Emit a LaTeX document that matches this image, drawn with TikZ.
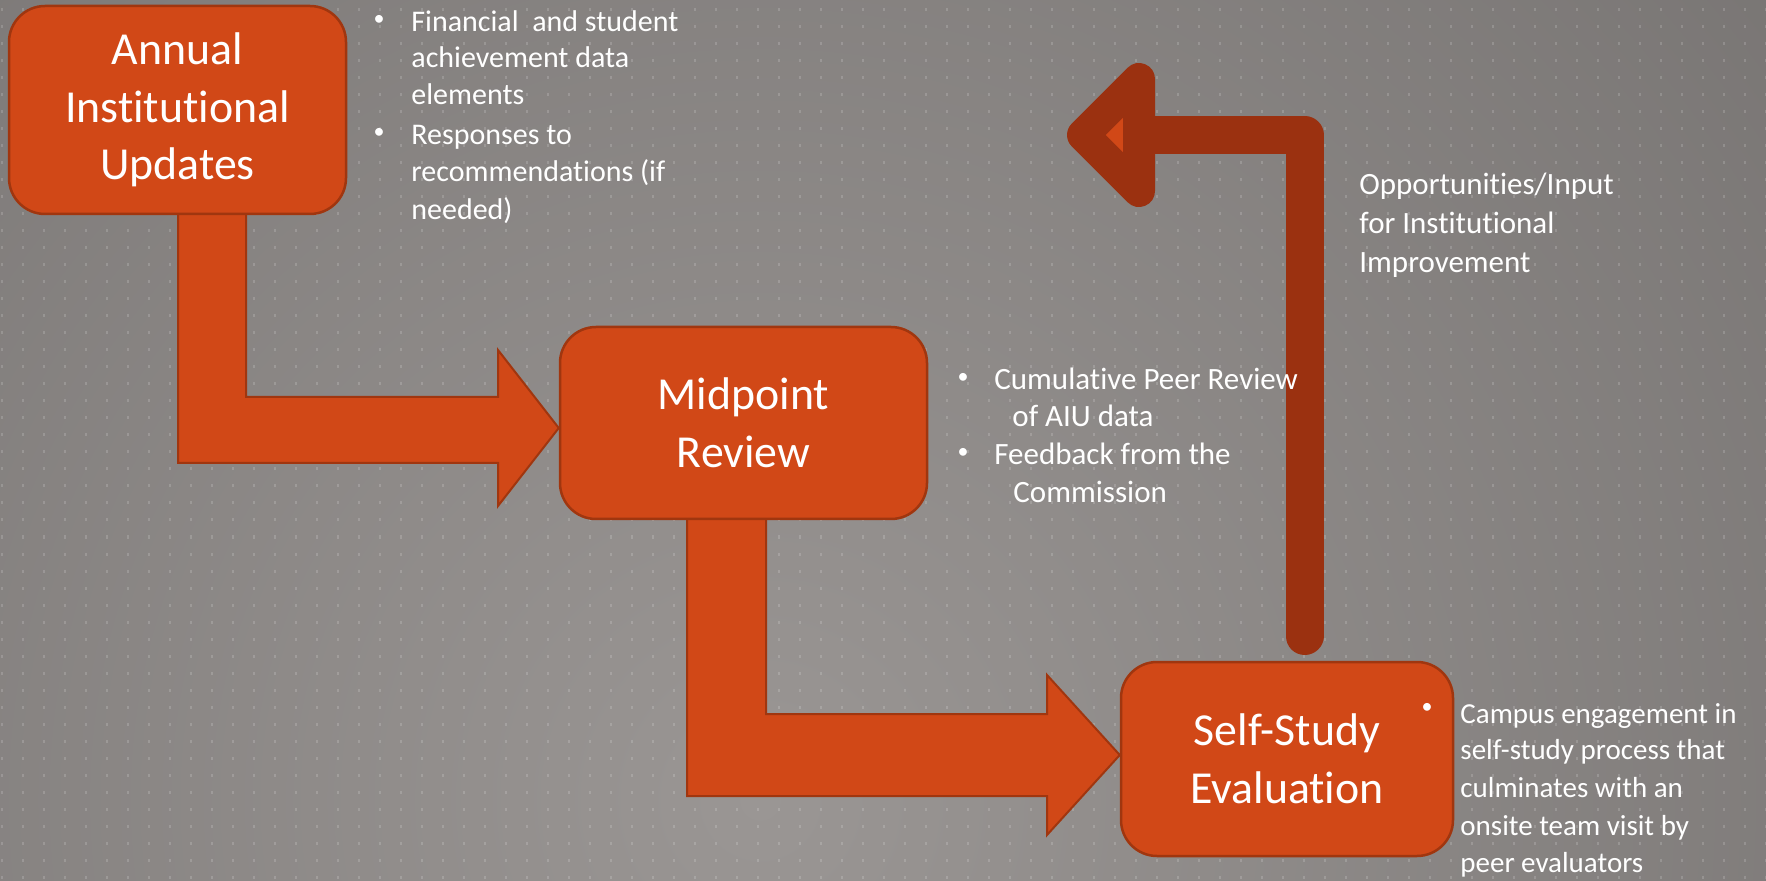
\documentclass[tikz,border=0pt]{standalone}
\usepackage{fontspec}
\setmainfont{Carlito}[Ligatures={NoCommon,NoRare,NoContextual}]
\usetikzlibrary{calc}
\definecolor{boxfill}{HTML}{D14817}
\definecolor{boxline}{HTML}{A0360F}
\definecolor{retred}{HTML}{9B3110}
\definecolor{bglight}{RGB}{154,150,148}
\definecolor{bgdark}{RGB}{89,86,85}
\pgfdeclareradialshading{bgshade}{\pgfpoint{0bp}{0bp}}{color(0bp)=(bglight); color(50bp)=(bgdark)}
\pgfdeclarelayer{bg}
\pgfsetlayers{bg,main}
\tikzset{
  stage/.style={draw=boxline, line width=1.25pt, fill=boxfill, rounded corners=18pt,
    text=white, align=center, font=\fontsize{22.9}{28.75}\selectfont, inner sep=0pt},
  blk/.style={fill=boxfill, draw=boxline, line width=1pt, line join=miter},
  retline/.style={draw=retred, line width=19pt, line cap=round, line join=round},
  rethead/.style={fill=boxfill, draw=retred, line width=16pt, line join=round},
  bul/.style={text=white, inner sep=0pt, anchor=base west},
  dot/.style={text=white, inner sep=0pt, anchor=center, font=\fontsize{11}{12}\selectfont},
  fa/.style={font=\fontsize{15}{18}\selectfont},
  fb/.style={font=\fontsize{15.5}{18}\selectfont},
  fc/.style={font=\fontsize{14.5}{18}\selectfont},
  gridline/.style={white, opacity=0.16, line width=1pt, dash pattern=on 1.5pt off 7pt}
}
\begin{document}
\begin{tikzpicture}[x=0.5pt, y=-0.5pt]
\useasboundingbox (0,0) rectangle (1766,881);

% stage boxes
\node[stage, minimum width=168.5pt, minimum height=104pt] (A) at (177.5,110) {Annual\\Institutional\\Updates};
\node[stage, minimum width=183.5pt, minimum height=96pt] (B) at (743.5,423) {Midpoint\\Review};
\node[stage, minimum width=166pt, minimum height=97pt] (C) at (1287,759) {Self-Study\\Evaluation};

% bullets for A
\node[dot] (ab1) at (379,20) {\textbullet};
\node[bul, fa] (a1) at (411,32) {Financial\ \ and student};
\node[bul, fa] (a2) at (411,68) {achievement data};
\node[bul, fa] (a3) at (411,105) {elements};
\node[dot] (ab2) at (379,133) {\textbullet};
\node[bul, fa] (a4) at (411,145) {Responses to};
\node[bul, fa] (a5) at (411,182) {recommendations (if};
\node[bul, fa] (a6) at (411,220) {needed)};

% bullets for B
\node[dot] (bb1) at (963,378) {\textbullet};
\node[bul, fb] (b1) at (994,390) {Cumulative Peer Review};
\node[bul, fb] (b2) at (1012,427) {of AIU data};
\node[dot] (bb2) at (963,453) {\textbullet};
\node[bul, fb] (b3) at (994,465) {Feedback from the};
\node[bul, fb] (b4) at (1013,503) {Commission};

% bullets for C
\node[dot] (cb1) at (1427,708) {\textbullet};
\node[bul, fc] (c1) at (1460,723) {Campus engagement in};
\node[bul, fc] (c2) at (1460,759) {self-study process that};
\node[bul, fc] (c3) at (1460,797) {culminates with an};
\node[bul, fc] (c4) at (1460,835) {onsite team visit by};
\node[bul, fc] (c5) at (1460,872) {peer evaluators};

% feedback label
\node[bul, fb] (o1) at (1359,195) {Opportunities/Input};
\node[bul, fb] (o2) at (1359,234) {for Institutional};
\node[bul, fb] (o3) at (1359,273) {Improvement};

\coordinate (ret0) at (1304.5,636);
\coordinate (rhc) at (1139,135);
\coordinate (rh1) at (1139,79);
\coordinate (rh2) at (1083,135);
\coordinate (rh3) at (1139,191);

\begin{pgfonlayer}{bg}
  \fill[bgdark] (0,0) rectangle (1766,881);
  \begin{scope}
    \clip (0,0) rectangle (1766,881);
    \shade[shading=bgshade] (760,800) circle (650pt);
  \end{scope}
  \foreach \i in {0,...,84} {
    \draw[gridline] ({1.7+21*\i},8.5) -- ({1.7+21*\i},881);
  }
  % block arrow A -> B
  \draw[blk] (178,200) -- (246,200) -- (246,397) -- (498,397) -- (498,350)
    -- ($(B.west)+(0,5)$) -- (498,506) -- (498,463) -- (178,463) -- cycle;
  % block arrow B -> C
  \draw[blk] (687,505) -- (766,505) -- (766,714) -- (1047,714) -- (1047,675)
    -- ($(C.west)+(0,-4)$) -- (1047,835) -- (1047,796) -- (687,796) -- cycle;
  % return arrow
  \draw[retline] (ret0) |- (rhc);
  \filldraw[rethead] (rh1) -- (rh2) -- (rh3) -- cycle;
\end{pgfonlayer}
\end{tikzpicture}
\end{document}
